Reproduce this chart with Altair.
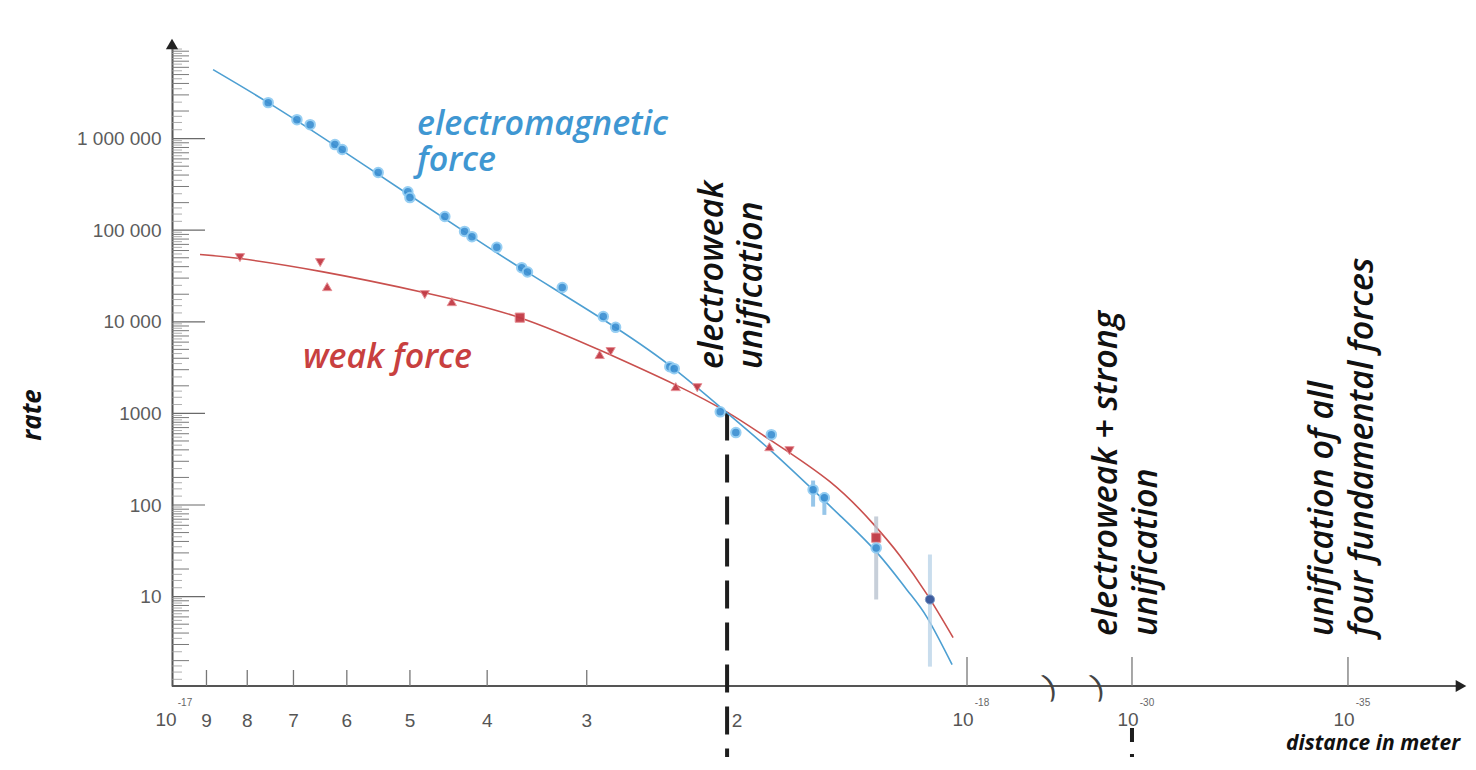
import math
import altair as alt
import pandas as pd

# ---------------- data (distances in units of 1e-18 m) ----------------
em_dist = [7.53, 6.93, 6.67, 6.21, 6.08, 5.48, 5.03, 5.00, 4.52, 4.27, 4.18, 3.89, 3.62,
           3.56, 3.22, 2.86, 2.76, 2.36, 2.33, 2.04, 1.95, 1.76, 1.56, 1.51, 1.30]
em_rate = [2.47e6, 1.61e6, 1.42e6, 8.6e5, 7.6e5, 4.26e5, 2.63e5, 2.27e5, 1.41e5, 9.7e4, 8.5e4,
           6.5e4, 3.9e4, 3.5e4, 2.37e4, 1.14e4, 8.7e3, 3.24e3, 3.08e3, 1.04e3, 617, 586, 147, 120, 34]
em_dark_dist = [1.113]
em_dark_rate = [9.3]

weak_dist = [8.17, 6.48, 6.35, 4.79, 4.43, 3.64, 2.89, 2.80, 2.32, 2.18, 1.77, 1.67, 1.30]
weak_rate = [5.02e4, 4.43e4, 2.42e4, 1.98e4, 1.66e4, 1.11e4, 4.39e3, 4.73e3, 1.96e3, 1.91e3, 433, 392, 44]
weak_shape = ["triangle-down", "triangle-down", "triangle-up", "triangle-down", "triangle-up", "square",
              "triangle-up", "triangle-down", "triangle-up", "triangle-down", "triangle-up",
              "triangle-down", "square"]

em_curve_dist = [8.83, 7.53, 6.21, 5.00, 4.18, 3.555, 2.862, 2.359, 1.995, 1.768, 1.561,
                 1.443, 1.297, 1.19, 1.122, 1.044]
em_curve_rate = [5.66e6, 2.47e6, 8.39e5, 2.39e5, 8.5e4, 3.44e4, 1.06e4, 3.33e3, 995, 403, 147,
                 76.6, 30.2, 11.9, 5.9, 1.81]
weak_curve_dist = [9.17, 8.17, 6.45, 4.79, 3.64, 2.862, 2.325, 1.995, 1.768, 1.486,
                   1.312, 1.214, 1.122, 1.041]
weak_curve_rate = [5.42e4, 4.9e4, 3.53e4, 2.08e4, 1.11e4, 4.73e3, 2.06e3, 1021, 518, 180,
                   62.6, 28.0, 10.5, 3.57]

err_dist = [1.56, 1.51, 1.30, 1.113]
err_lo = [96, 78, 9.3, 1.72]
err_hi = [185, 137, 75, 28.8]
err_color = ["#7db8e3", "#7db8e3", "#b9c3cf", "#bcd5e8"]

y_tick_values = [10, 100, 1000, 10000, 100000, 1000000]
y_tick_labels = ["10", "100", "1000", "10 000", "100 000", "1 000 000"]
x_digit_mant = [9, 8, 7, 6, 5, 4, 3]
x_digit_labels = ["9", "8", "7", "6", "5", "4", "3"]
x_two_mant = [2]
x_two_label = ["2"]
x_pow_exp = [-17, -18, -30, -35]
x_pow_base = ["10", "10", "10", "10"]
x_pow_sup = ["-17", "-18", "-30", "-35"]
break_u = [1.104, 1.164]

electroweak_dist = [2.0]
electroweak_rate = [1020]

em_label = ["electromagnetic", "force"]
weak_label = ["weak force"]
ew_label = ["electroweak", "unification"]
ews_label = ["electroweak + strong", "unification"]
all_label = ["unification of all", "four fundamental forces"]

# ---------------- broken-axis mapping ----------------
FAR_U0, FAR_STEP = 1.207, 0.0542


def u_near(d):
    return 1 - math.log10(d)


def u_pow(exp):
    if exp >= -18:
        return u_near(10 ** (exp + 18))
    return FAR_U0 + (-30 - exp) * FAR_STEP


W, H = 1283, 639
PAD = {"left": 164, "top": 39, "right": 13, "bottom": 71}
PX_DEC_X = 797.0
PX_DEC_Y = 91.6
U_MIN = 0.0025
U_MAX = U_MIN + W / PX_DEC_X
Y_MAX = 1e7
Y_MIN = 10 ** (7 - H / PX_DEC_Y)

XSCALE = alt.Scale(domain=[U_MIN, U_MAX], nice=False, zero=False)
YSCALE = alt.Scale(type="log", domain=[Y_MIN, Y_MAX], nice=False)

label_expr = " : ".join(
    f"round(datum.value) == {v} ? '{l}'" for v, l in zip(y_tick_values, y_tick_labels)
) + " : ''"

YAXIS = alt.Axis(values=y_tick_values, labelExpr=label_expr, ticks=False, tickSize=0, grid=False,
                 domain=True, domainColor="#555555", domainWidth=2, labelFont="Liberation Sans",
                 labelFontSize=19, labelColor="#5c5c5c", labelPadding=11, title=None)


def X(f="u"):
    return alt.X(f"{f}:Q", scale=XSCALE, axis=None)


def Y(f="rate"):
    return alt.Y(f"{f}:Q", scale=YSCALE, axis=YAXIS)


def df_dist(dists, rates, **extra):
    d = pd.DataFrame({"u": [u_near(x) for x in dists], "rate": rates})
    for k, v in extra.items():
        d[k] = v
    return d


layers = []

# ---- y axis minor / major ticks (inside) ----
major = pd.DataFrame({"rate": y_tick_values})
minor_vals, fine_vals = [], []
for dec in range(0, 7):
    for m in [2, 3, 4, 5, 6, 7, 8, 9]:
        minor_vals.append(m * 10 ** dec)
    for m in [1.25, 1.5, 1.75, 2.5, 3.5, 4.5, 5.5, 6.5, 7.5, 8.5, 9.5]:
        fine_vals.append(m * 10 ** dec)
minor_vals = [v for v in minor_vals if Y_MIN < v < 0.97e7]
fine_vals = [v for v in fine_vals if Y_MIN < v < 0.97e7]

layers.append(alt.Chart(major).mark_rule(color="#6a6a6a", strokeWidth=1.2).encode(
    y=Y(), x=alt.value(0), x2=alt.value(33)))
layers.append(alt.Chart(pd.DataFrame({"rate": minor_vals})).mark_rule(color="#7a7a7a", strokeWidth=1).encode(
    y=Y(), x=alt.value(0), x2=alt.value(17)))
layers.append(alt.Chart(pd.DataFrame({"rate": fine_vals})).mark_rule(color="#9a9a9a", strokeWidth=0.8).encode(
    y=Y(), x=alt.value(0), x2=alt.value(10)))

# ---- x axis line, ticks, arrows, breaks ----
one = pd.DataFrame({"k": [0]})
layers.append(alt.Chart(one).mark_rule(color="#555555", strokeWidth=2).encode(
    x=alt.value(0), x2=alt.value(W + 2), y=alt.value(H)))
layers.append(alt.Chart(one).mark_point(shape="triangle-right", filled=True, size=150, color="#222222",
                                        opacity=1).encode(x=alt.value(W + 6), y=alt.value(H)))
layers.append(alt.Chart(one).mark_point(shape="triangle-up", filled=True, size=150, color="#222222",
                                        opacity=1).encode(x=alt.value(0), y=alt.value(-3)))

short_ticks = pd.DataFrame({"u": [u_near(m) for m in x_digit_mant + x_two_mant]})
layers.append(alt.Chart(short_ticks).mark_rule(color="#777777", strokeWidth=1.3).encode(
    x=X(), y=alt.value(H - 16), y2=alt.value(H)))
long_ticks = pd.DataFrame({"u": [u_pow(e) for e in x_pow_exp[1:]]})
layers.append(alt.Chart(long_ticks).mark_rule(color="#777777", strokeWidth=1.3).encode(
    x=X(), y=alt.value(H - 29), y2=alt.value(H)))

layers.append(alt.Chart(pd.DataFrame({"u": break_u, "t": [")", ")"]})).mark_text(
    fontSize=30, angle=340, color="#444444", font="Liberation Sans", baseline="middle").encode(
    x=X(), y=alt.value(H), text="t:N"))

# x labels
LBL = dict(fontSize=19, color="#555555", font="Liberation Sans", baseline="middle")
digits = pd.DataFrame({"u": [u_near(m) for m in x_digit_mant], "t": x_digit_labels})
layers.append(alt.Chart(digits).mark_text(**LBL).encode(
    x=X(), y=alt.value(H + 35), text="t:N"))
two = pd.DataFrame({"u": [u_near(m) for m in x_two_mant], "t": x_two_label})
layers.append(alt.Chart(two).mark_text(dx=10, **LBL).encode(
    x=X(), y=alt.value(H + 35), text="t:N"))
pows = pd.DataFrame({"u": [u_pow(e) for e in x_pow_exp], "b": x_pow_base, "s": x_pow_sup})
layers.append(alt.Chart(pows).mark_text(dx=-4, **LBL).encode(
    x=X(), y=alt.value(H + 34), text="b:N"))
layers.append(alt.Chart(pows).mark_text(fontSize=10, color="#666666", font="Liberation Sans",
                                        baseline="middle", dx=15).encode(
    x=X(), y=alt.value(H + 17), text="s:N"))

# ---- dashed markers ----
layers.append(alt.Chart(df_dist(electroweak_dist, electroweak_rate)).mark_rule(
    color="#1e1e1e", strokeWidth=4, strokeDash=[28, 14]).encode(
    x=X(), y=Y(), y2=alt.value(H + PAD["bottom"])))
layers.append(alt.Chart(pd.DataFrame({"u": [u_pow(-30)]})).mark_rule(
    color="#1e1e1e", strokeWidth=4, strokeDash=[14, 12]).encode(
    x=X(), y=alt.value(H + 42), y2=alt.value(H + PAD["bottom"])))

# ---- curves ----
layers.append(alt.Chart(df_dist(weak_curve_dist, weak_curve_rate)).mark_line(
    color="#c9504e", strokeWidth=1.6, interpolate="natural").encode(x=X(), y=Y()))
layers.append(alt.Chart(df_dist(em_curve_dist, em_curve_rate)).mark_line(
    color="#4d9fd2", strokeWidth=1.6, interpolate="natural").encode(x=X(), y=Y()))

# ---- error bars ----
err = pd.DataFrame({"u": [u_near(d) for d in err_dist], "lo": err_lo, "hi": err_hi, "c": err_color})
layers.append(alt.Chart(err).mark_rule(strokeWidth=4, opacity=0.8).encode(
    x=X(), y=Y("lo"), y2=alt.Y2("hi:Q"), color=alt.Color("c:N", scale=None)))

# ---- points ----
layers.append(alt.Chart(df_dist(weak_dist, weak_rate, shape=weak_shape)).mark_point(
    filled=True, fill="#c23a45", stroke="#e58b91", strokeWidth=1, size=85, opacity=0.95).encode(
    x=X(), y=Y(), shape=alt.Shape("shape:N", scale=None)))
layers.append(alt.Chart(df_dist(em_dist, em_rate)).mark_point(
    shape="circle", filled=True, fill="#3a8fd2", stroke="#8fcbf2", strokeWidth=2, size=90,
    opacity=0.92).encode(x=X(), y=Y()))
layers.append(alt.Chart(df_dist(em_dark_dist, em_dark_rate)).mark_point(
    shape="circle", filled=True, fill="#3d5c9e", stroke="#7f9cc8", strokeWidth=1, size=85,
    opacity=1).encode(x=X(), y=Y()))

# ---- annotations ----
ANN = dict(font="Open Sans", fontStyle="italic", fontSize=34, fontWeight=600)
layers.append(alt.Chart(pd.DataFrame({"t": em_label, "yy": [88, 124]})).mark_text(
    align="left", baseline="alphabetic", color="#3f97d2", **ANN).encode(
    x=alt.value(245), y=alt.Y("yy:Q", scale=None), text="t:N"))
layers.append(alt.Chart(pd.DataFrame({"t": weak_label})).mark_text(
    align="left", baseline="alphabetic", color="#c8403f", **ANN).encode(
    x=alt.value(131), y=alt.value(321), text="t:N"))

ROT = dict(angle=270, align="left", baseline="middle", color="#111111", **ANN)
layers.append(alt.Chart(pd.DataFrame({"t": ew_label, "xx": [541, 580]})).mark_text(**ROT).encode(
    x=alt.X("xx:Q", scale=None), y=alt.value(322), text="t:N"))
layers.append(alt.Chart(pd.DataFrame({"t": ews_label, "xx": [935, 975]})).mark_text(**ROT).encode(
    x=alt.X("xx:Q", scale=None), y=alt.value(589), text="t:N"))
layers.append(alt.Chart(pd.DataFrame({"t": all_label, "xx": [1151, 1191]})).mark_text(**ROT).encode(
    x=alt.X("xx:Q", scale=None), y=alt.value(589), text="t:N"))

layers.append(alt.Chart(pd.DataFrame({"t": ["rate"]})).mark_text(
    angle=270, align="center", baseline="middle", font="Open Sans", fontStyle="italic",
    fontWeight="bold", fontSize=26, color="#111111").encode(
    x=alt.value(-139), y=alt.value(368), text="t:N"))
layers.append(alt.Chart(pd.DataFrame({"t": ["distance in meter"]})).mark_text(
    align="right", baseline="alphabetic", font="Open Sans", fontStyle="italic",
    fontWeight="bold", fontSize=21, color="#111111").encode(
    x=alt.value(1288), y=alt.value(703), text="t:N"))

chart = alt.layer(*layers).properties(
    width=W, height=H,
    padding=PAD,
    autosize=alt.AutoSizeParams(type="none"),
    background="white",
).configure_view(stroke=None)

chart.save("out.html", embed_options={"renderer": "svg", "actions": False})
